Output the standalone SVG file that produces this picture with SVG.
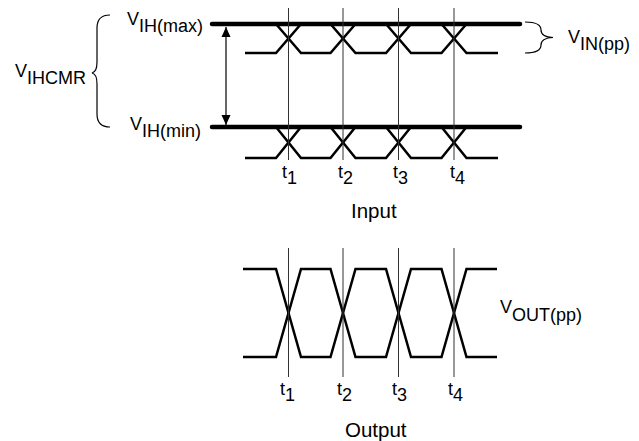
<svg xmlns="http://www.w3.org/2000/svg" width="639" height="441" viewBox="0 0 639 441">
<style>
text{font-family:"Liberation Sans",Arial,sans-serif;fill:#000}
.lbl{font-size:18px}
.cap{font-size:20.5px}
.thick{stroke:#000;stroke-width:4.5;stroke-linecap:round;fill:none}
.sig{stroke:#000;stroke-width:2.5;fill:none;stroke-linejoin:miter}
.tl{stroke:#333;stroke-width:1;fill:none}
.thin{stroke:#000;stroke-width:1.2;fill:none}
</style>
<defs>
<marker id="ah" viewBox="0 0 10 10" refX="10" refY="5" markerWidth="10" markerHeight="10" markerUnits="userSpaceOnUse" orient="auto-start-reverse">
<path d="M0,0.5 L10,5 L0,9.5 Z" fill="#000"/>
</marker>
</defs>
<rect width="639" height="441" fill="#fff"/>

<g id="input-upper">
<path class="sig" d="M245,53 H276 L301,24 H330.5 L355.5,53 H386 L411,24 H441.5 L466.5,53 H498"/>
<path class="sig" d="M276,24 L301,53 H330.5 L355.5,24 H386 L411,53 H441.5 L466.5,24"/>
<line class="thick" x1="212" y1="24" x2="520" y2="24"/>
</g>

<g id="input-lower">
<path class="sig" d="M245,158 H276 L301,127 H330.5 L355.5,158 H386 L411,127 H441.5 L466.5,158 H498"/>
<path class="sig" d="M276,127 L301,158 H330.5 L355.5,127 H386 L411,158 H441.5 L466.5,127"/>
<line class="thick" x1="212" y1="127" x2="520" y2="127"/>
</g>

<g id="output">
<path class="sig" d="M243,269 H276 L301,357 H330.5 L355.5,269 H386 L411,357 H441.5 L466.5,269 H497"/>
<path class="sig" d="M243,357 H276 L301,269 H330.5 L355.5,357 H386 L411,269 H441.5 L466.5,357 H497"/>
</g>

<g id="connectors">
<line class="tl" x1="288.5" y1="8" x2="288.5" y2="160"/>
<line class="tl" x1="343" y1="8" x2="343" y2="160"/>
<line class="tl" x1="398.5" y1="8" x2="398.5" y2="160"/>
<line class="tl" x1="454" y1="8" x2="454" y2="160"/>
<line class="tl" x1="288.5" y1="248" x2="288.5" y2="377"/>
<line class="tl" x1="343" y1="248" x2="343" y2="377"/>
<line class="tl" x1="398.5" y1="248" x2="398.5" y2="377"/>
<line class="tl" x1="454" y1="248" x2="454" y2="377"/>
<line class="thin" x1="226" y1="27" x2="226" y2="125" marker-start="url(#ah)" marker-end="url(#ah)"/>
<path class="thin" d="M110,15 Q97,15 97,28 L97,62 Q97,72 92,73 Q97,74 97,84 L97,114 Q97,127 110,127"/>
<path class="thin" d="M525,22 Q541,22 541,30 Q541,37 553,37.5 Q541,38 541,45 Q541,53 525,53"/>
</g>

<g id="labels">
<text class="lbl" x="127" y="25">V<tspan dy="7">IH(max)</tspan></text>
<text class="lbl" x="130" y="130">V<tspan dy="7">IH(min)</tspan></text>
<text class="lbl" x="15" y="77">V<tspan dy="6.5">IHCMR</tspan></text>
<text class="lbl" x="568" y="43">V<tspan dy="7">IN(pp)</tspan></text>
<text class="lbl" x="500" y="313">V<tspan dy="8">OUT(pp)</tspan></text>
<text class="lbl" x="282" y="178">t<tspan dy="6">1</tspan></text>
<text class="lbl" x="338" y="178">t<tspan dy="6">2</tspan></text>
<text class="lbl" x="393" y="178">t<tspan dy="6">3</tspan></text>
<text class="lbl" x="450" y="178">t<tspan dy="6">4</tspan></text>
<text class="lbl" x="280" y="395">t<tspan dy="6">1</tspan></text>
<text class="lbl" x="337" y="395">t<tspan dy="6">2</tspan></text>
<text class="lbl" x="392" y="395">t<tspan dy="6">3</tspan></text>
<text class="lbl" x="448" y="395">t<tspan dy="6">4</tspan></text>
<text class="cap" x="351" y="218">Input</text>
<text class="cap" x="345" y="437">Output</text>
</g>
</svg>
